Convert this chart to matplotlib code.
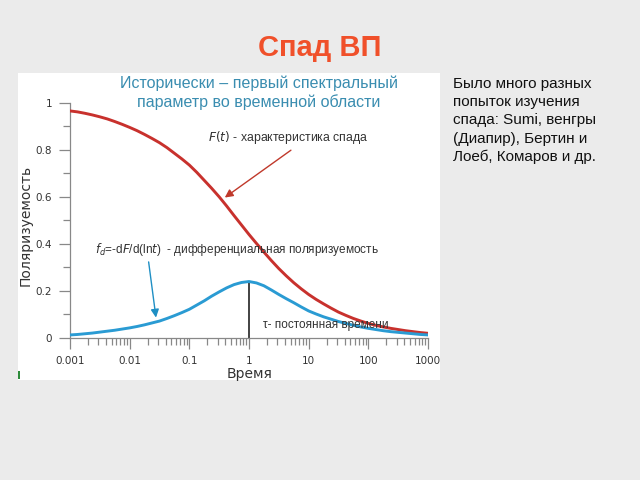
import numpy as np
import matplotlib.pyplot as plt
from matplotlib.patches import Rectangle

# Values (time in decades, eighth-decade steps)
log_t = [-3, -2.875, -2.75, -2.625, -2.5, -2.375, -2.25, -2.125,
         -2, -1.875, -1.75, -1.625, -1.5, -1.375, -1.25, -1.125,
         -1, -0.875, -0.75, -0.625, -0.5, -0.375, -0.25, -0.125,
         0, 0.125, 0.25, 0.375, 0.5, 0.625, 0.75, 0.875,
         1, 1.125, 1.25, 1.375, 1.5, 1.625, 1.75, 1.875,
         2, 2.125, 2.25, 2.375, 2.5, 2.625, 2.75, 2.875, 3]
F_decay = [0.965, 0.961, 0.955, 0.948, 0.940, 0.931, 0.920, 0.908,
           0.895, 0.881, 0.865, 0.848, 0.830, 0.809, 0.785, 0.761,
           0.735, 0.704, 0.670, 0.636, 0.600, 0.561, 0.520, 0.480,
           0.440, 0.402, 0.365, 0.329, 0.295, 0.264, 0.235, 0.209,
           0.185, 0.164, 0.145, 0.127, 0.110, 0.096, 0.083, 0.072,
           0.062, 0.054, 0.047, 0.041, 0.036, 0.031, 0.027, 0.023, 0.020]
f_diff = [0.013, 0.015, 0.018, 0.021, 0.025, 0.029, 0.033, 0.038,
          0.043, 0.049, 0.056, 0.064, 0.072, 0.083, 0.095, 0.108,
          0.122, 0.140, 0.158, 0.178, 0.196, 0.213, 0.227, 0.236,
          0.240, 0.234, 0.222, 0.204, 0.185, 0.167, 0.150, 0.132,
          0.115, 0.102, 0.090, 0.080, 0.070, 0.062, 0.054, 0.047,
          0.041, 0.036, 0.031, 0.027, 0.024, 0.021, 0.018, 0.015, 0.013]
tau = 1.0
tau_peak = 0.24

x_ticks = [0.001, 0.01, 0.1, 1, 10, 100, 1000]
x_ticklabels = ['0.001', '0.01', '0.1', '1', '10', '100', '1000']
y_ticks = [0, 0.2, 0.4, 0.6, 0.8, 1]
y_ticklabels = ['0', '0.2', '0.4', '0.6', '0.8', '1']

t = 10.0 ** np.array(log_t)

W, H = 640, 480
fig = plt.figure(figsize=(6.4, 4.8), dpi=100)
fig.patch.set_facecolor('#ebebeb')

def fx(px):
    return px / W

def fy(py):
    return 1 - py / H

# white picture box of the slide
fig.patches.append(Rectangle((fx(18), fy(380)), fx(440) - fx(18), fy(73) - fy(380),
                             transform=fig.transFigure, facecolor='white',
                             edgecolor='none', zorder=-10))
fig.patches.append(Rectangle((fx(18), fy(379)), fx(2), fy(371) - fy(379),
                             transform=fig.transFigure, facecolor='#2e8b3a',
                             edgecolor='none', zorder=-9))

ax = fig.add_axes([fx(70), fy(338), fx(428) - fx(70), fy(102.7) - fy(338)])
ax.set_facecolor('none')
ax.set_xscale('log')
ax.set_xlim(0.001, 1000)
ax.set_ylim(0, 1)

ax.plot(t, F_decay, color='#c8312d', lw=2.1, solid_capstyle='round', zorder=3)
ax.plot(t, f_diff, color='#2a9bd3', lw=2.1, solid_capstyle='round', zorder=3)
ax.plot([tau, tau], [0, tau_peak], color='#222222', lw=1.2, zorder=2)

for s in ['top', 'right']:
    ax.spines[s].set_visible(False)
for s in ['left', 'bottom']:
    ax.spines[s].set_color('#888888')
    ax.spines[s].set_linewidth(0.9)

ax.set_xticks(x_ticks)
ax.set_xticklabels(x_ticklabels)
ax.set_yticks(y_ticks)
ax.set_yticklabels(y_ticklabels)
ax.set_yticks(np.arange(0.1, 1.0, 0.2), minor=True)
ax.tick_params(axis='both', which='major', direction='out', length=8, width=0.9,
               color='#888888', labelsize=7.5, labelcolor='#333333', pad=5)
ax.tick_params(axis='both', which='minor', direction='out', length=5, width=0.9,
               color='#888888')

fig.text(fx(250), fy(374), 'Время', ha='center', va='center', fontsize=10,
         color='#333333')
fig.text(fx(26), fy(225), 'Поляризуемость', ha='center', va='center',
         rotation=90, fontsize=10, color='#333333')

# picture heading
fig.text(fx(259), fy(92.5), 'Исторически – первый спектральный\nпараметр во временной области',
         ha='center', va='center', fontsize=11.5, color='#3a8db0',
         family='Liberation Sans', linespacing=1.28)

# annotations
ax.annotate('', xy=(0.36, 0.59), xytext=(5.5, 0.805),
            arrowprops=dict(arrowstyle='-|>', color='#c0392b', lw=1.0,
                            mutation_scale=12))
fig.text(fx(208), fy(137), '$F(t)$ - характеристика спада', ha='left',
         va='center', fontsize=8.8, color='#333333', family='Liberation Sans')

ax.annotate('', xy=(0.028, 0.075), xytext=(0.0205, 0.335),
            arrowprops=dict(arrowstyle='-|>', color='#1f8fc4', lw=1.0,
                            mutation_scale=12))
fig.text(fx(95), fy(249), '$f_d$=-d$F$/d(ln$t$)  - дифференциальная поляризуемость',
         ha='left', va='center', fontsize=8.5, color='#333333',
         family='Liberation Sans')

fig.text(fx(263), fy(325), 'τ- постоянная времени', ha='left', va='center',
         fontsize=8.5, color='#333333', family='Liberation Sans')

# slide title and side text
fig.text(fx(320), fy(48), 'Спад ВП', ha='center', va='center', fontsize=21,
         fontweight='bold', color='#f0502a', family='Liberation Sans')
fig.text(fx(453), fy(77), 'Было много разных\nпопыток изучения\nспада: Sumi, венгры\n'
         '(Диапир), Бертин и\nЛоеб, Комаров и др.', ha='left', va='top',
         fontsize=11, color='#111111', family='Liberation Sans', linespacing=1.38)

fig.savefig('out.png', dpi=100, facecolor=fig.get_facecolor())
